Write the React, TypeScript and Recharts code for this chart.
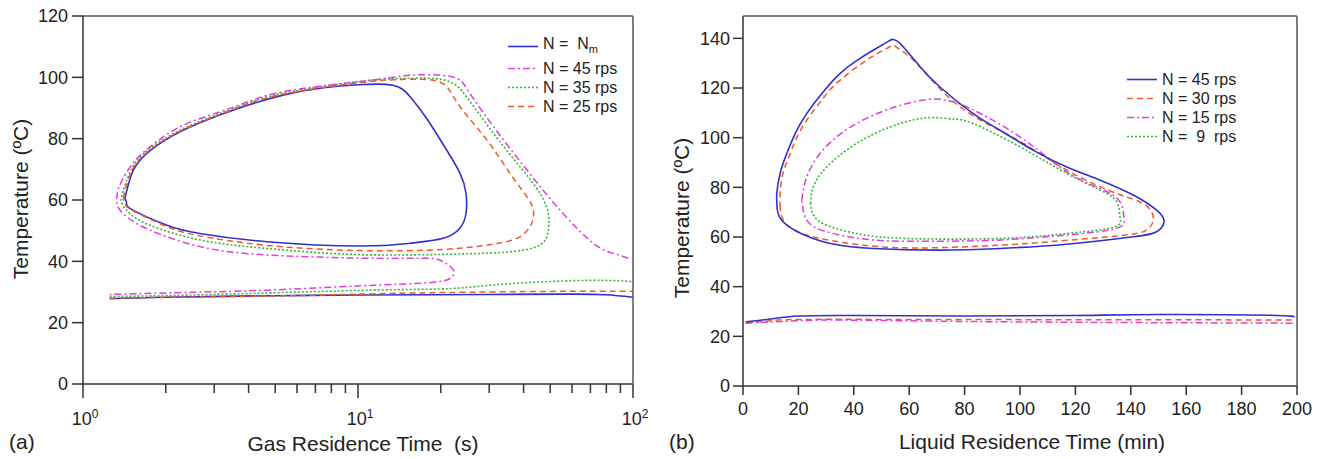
import { LineChart, Line, XAxis, YAxis } from 'recharts'

// panel (a): gas residence time (s, log) vs temperature
const A_NM_LOOP: [number, number][] = [
  [1.42, 60.5], [1.52, 69.5], [1.75, 76], [2.32, 82.8], [3.51, 89.3], [5.34, 94.2], [7.5, 96.6],
  [10, 97.6], [13.4, 97.4], [15.5, 93.6], [17.8, 86.5], [21, 76.3], [23.5, 68.7], [24.7, 62.2],
  [24.7, 55.6], [23.5, 50.9], [20.4, 47.5], [15.5, 45.9], [10.2, 45], [4.66, 46.4], [2.66, 49.1],
  [2.02, 51.8], [1.52, 56.7], [1.44, 58.9], [1.42, 60.5],
]
const A_NM_LOW: [number, number][] = [
  [1.25, 27.8], [2, 28.3], [5, 28.8], [10, 29], [30, 29.2], [60, 29.3], [80, 29.1], [100, 28.3],
]
const A_45_PATH: [number, number][] = [
  [96, 41], [84.8, 42.6], [71.7, 45.9], [54.3, 56.7], [41.1, 69.8], [31.1, 83.9], [25.5, 94.8],
  [23.5, 99.1], [20.4, 100.6], [15.5, 100.7], [10.8, 98.9], [5.35, 95.3], [3.51, 90.2], [2.32, 84.4],
  [1.75, 77.3], [1.52, 72], [1.38, 66], [1.33, 61.5], [1.34, 57.8], [1.44, 54.6], [1.75, 50.2],
  [2.66, 44.8], [4.66, 42.1], [10.8, 41], [17.8, 41], [20.4, 39.9], [22.2, 37.2], [21.6, 34.4],
  [17.8, 33], [10.2, 32], [4.66, 30.6], [2.5, 29.9], [1.25, 29.2],
]
const A_35_LOOP: [number, number][] = [
  [1.38, 61], [1.5, 70], [1.74, 76.6], [2.32, 83.3], [3.51, 89.8], [5.34, 94.8], [10, 98.6],
  [14, 99.6], [19, 99.6], [22.2, 98], [24.8, 93.7], [31.1, 81.7], [38.8, 70.9], [45.9, 62.2],
  [49.2, 55.6], [49.2, 50.2], [45.9, 45.3], [35.7, 43.1], [23.5, 42.4], [10.2, 42.2], [4.66, 44.2],
  [2.66, 47], [1.75, 51.8], [1.48, 55.6], [1.39, 58.5], [1.38, 61],
]
const A_35_LOW: [number, number][] = [
  [1.25, 28.5], [3, 29.2], [10, 30.5], [20, 31], [27, 31.8], [40, 33], [70, 33.8], [100, 33.4],
]
const A_25_LOOP: [number, number][] = [
  [1.4, 60.5], [1.51, 69.8], [1.75, 76.3], [2.32, 83], [3.51, 89.5], [5.34, 94.5], [10, 98.2],
  [13.4, 99.2], [17.8, 99.3], [21, 97], [23.5, 90.4], [29.4, 79.6], [35.7, 68.7], [41.1, 61.1],
  [43.4, 56.7], [42.8, 52.4], [38.8, 48], [31.1, 45.6], [20.4, 43.9], [10.2, 43.5], [4.66, 45.2],
  [2.66, 48.3], [2.02, 51.3], [1.52, 56.5], [1.42, 58.8], [1.4, 60.5],
]
const A_25_LOW: [number, number][] = [
  [1.25, 28], [5, 28.7], [10, 29.3], [20, 29.8], [50, 30.2], [100, 30.2],
]

// panel (b): liquid residence time (min) vs temperature
const B_45_LOOP: [number, number][] = [
  [12.4, 70.8], [12.2, 77.5], [13.5, 86], [15.8, 93.6], [19, 102], [23, 109.7], [29, 118.5],
  [35, 125.8], [41, 131], [47, 135.2], [52, 138.5], [54, 139.6], [55.5, 139], [57.9, 136.5],
  [64, 128.5], [71.1, 120.4], [83.1, 109.7], [92.8, 103], [104.7, 95], [116.9, 88.2], [128.9, 82.9],
  [140.9, 76.9], [149.3, 70.8], [152, 66.1], [149.3, 62.1], [140.9, 60.1], [116.9, 57.1],
  [92.8, 55.4], [71.1, 54.7], [47, 55.4], [29, 58.1], [15.8, 64.8], [12.4, 70.8],
]
const B_45_LOW: [number, number][] = [
  [1, 25.8], [10, 27], [20, 28.2], [40, 28.4], [80, 28.2], [120, 28.4], [150, 28.8], [190, 28.5], [199, 27.7],
]
const B_30_LOOP: [number, number][] = [
  [13.4, 72], [13.4, 78], [14.5, 86], [16.5, 92], [19, 99], [23, 107], [29, 116], [35, 123.1],
  [45, 131.5], [52, 136], [54.3, 137.2], [56, 136], [61.5, 131.2], [71.1, 119.7], [83.1, 108.8],
  [100, 98.5], [116.9, 86.9], [134.9, 77.5], [144.5, 73.5], [148.1, 68.1], [145.7, 62.8],
  [134.9, 60.4], [110.8, 58.1], [92.8, 56.7], [70, 55.7], [47, 56.3], [23, 60.8], [14.6, 66.8], [13.4, 72],
]
const B_30_LOW: [number, number][] = [
  [1, 25.5], [10, 26.3], [20, 26.8], [60, 26.8], [120, 26.7], [199, 26.6],
]
const B_15_LOOP: [number, number][] = [
  [21.2, 74.8], [23, 84.2], [27.8, 93.6], [34, 100.5], [41, 105.7], [53.1, 111.7], [67.5, 115.5],
  [74, 114.8], [80.8, 112.4], [100, 100.3], [116.9, 86.2], [128.9, 79.6], [136.1, 74.2],
  [137.5, 68.1], [134.9, 63.5], [116.9, 60.8], [92.8, 58.8], [70, 58.3], [47, 58.8], [30.2, 62.1],
  [23, 66.8], [21.2, 74.8],
]
const B_15_LOW: [number, number][] = [
  [1, 25.3], [20, 26.3], [40, 26.5], [100, 25.8], [199, 25.3],
]
const B_9_LOOP: [number, number][] = [
  [24.4, 73.5], [25.4, 80.2], [30.2, 88.2], [41, 97.7], [53.1, 104.3], [62, 107.3], [68.8, 108.1],
  [76, 107.5], [83.1, 105.7], [100, 96.3], [116.9, 85.6], [128.9, 78.9], [134.9, 74.2],
  [136.1, 68.1], [133.7, 63.9], [116.9, 61.4], [92.8, 59.4], [59.1, 59.4], [41, 61.4], [27.8, 66.1],
  [24.4, 73.5],
]

const LOG_TICKS = [1, 2, 3, 4, 5, 6, 7, 8, 9, 10, 20, 30, 40, 50, 60, 70, 80, 90, 100]
const A_Y_TICKS = [0, 20, 40, 60, 80, 100, 120]
const B_X_TICKS = [0, 20, 40, 60, 80, 100, 120, 140, 160, 180, 200]
const B_Y_TICKS = [0, 20, 40, 60, 80, 100, 120, 140]

const BLUE = '#3030cc'
const RED = '#f05a2a'
const MAG = '#dc40dc'
const GREEN = '#36b536'
const AXIS = '#333'
const FONT = '"Liberation Sans", Arial, sans-serif'

const STYLE: Record<string, { stroke: string; dash?: string; w: number }> = {
  solid: { stroke: BLUE, w: 1.6 },
  dash: { stroke: RED, dash: '6 4', w: 1.5 },
  dashdot: { stroke: MAG, dash: '7 3 2 3', w: 1.5 },
  dot: { stroke: GREEN, dash: '2 2', w: 1.6 },
}

const pts = (arr: [number, number][]) => arr.map(([x, y]) => ({ x, y }))

const seriesA = [
  { key: 'a1', data: A_NM_LOOP, s: 'solid' },
  { key: 'a2', data: A_NM_LOW, s: 'solid' },
  { key: 'a3', data: A_35_LOOP, s: 'dot' },
  { key: 'a4', data: A_35_LOW, s: 'dot' },
  { key: 'a5', data: A_25_LOOP, s: 'dash' },
  { key: 'a6', data: A_25_LOW, s: 'dash' },
  { key: 'a7', data: A_45_PATH, s: 'dashdot' },
]
const seriesB = [
  { key: 'b1', data: B_9_LOOP, s: 'dot' },
  { key: 'b2', data: B_15_LOOP, s: 'dashdot' },
  { key: 'b3', data: B_15_LOW, s: 'dashdot' },
  { key: 'b4', data: B_30_LOOP, s: 'dash' },
  { key: 'b5', data: B_30_LOW, s: 'dash' },
  { key: 'b6', data: B_45_LOOP, s: 'solid' },
  { key: 'b7', data: B_45_LOW, s: 'solid' },
]

const LogTick = (props: any) => {
  const { x, y, payload } = props
  const v = payload.value
  const e = Math.round(Math.log10(v))
  const major = Math.abs(Math.log10(v) - e) < 1e-6
  return (
    <g>
      <line x1={x} x2={x} y1={y} y2={y + (major ? 14 : 9)} stroke={AXIS} strokeWidth={1.5} />
      {major && (
        <text x={x + 2} y={y + 41} textAnchor="middle" fontSize={18} fill="#222">
          10<tspan fontSize={12} dy={-7}>{e}</tspan>
        </text>
      )}
    </g>
  )
}

function renderLines(list: { key: string; data: [number, number][]; s: string }[]) {
  return list.map(l => {
    const st = STYLE[l.s]
    return (
      <Line
        key={l.key}
        data={pts(l.data)}
        dataKey="y"
        type="natural"
        stroke={st.stroke}
        strokeWidth={st.w}
        strokeDasharray={st.dash}
        dot={false}
        activeDot={false}
        isAnimationActive={false}
      />
    )
  })
}

function LegendBox({ left, top, rows }: { left: number; top: number; rows: { s: string; label: React.ReactNode }[] }) {
  return (
    <div style={{ position: 'absolute', left, top, fontSize: 16, lineHeight: '19px', color: '#222' }}>
      {rows.map((r, i) => {
        const st = STYLE[r.s]
        return (
          <div key={i} style={{ display: 'flex', alignItems: 'center', whiteSpace: 'pre' }}>
            <svg width={35} height={19}>
              <line x1={0} x2={30} y1={9.5} y2={9.5} stroke={st.stroke} strokeWidth={st.w} strokeDasharray={st.dash} />
            </svg>
            <span>{r.label}</span>
          </div>
        )
      })}
    </div>
  )
}

const abs = (s: React.CSSProperties): React.CSSProperties => ({ position: 'absolute', whiteSpace: 'pre', color: '#222', ...s })
const yTitle = (cx: number, cy: number) => (
  <div style={abs({ left: cx, top: cy, fontSize: 21, transform: 'translate(-50%,-50%) rotate(-90deg)' })}>
    Temperature (ºC)
  </div>
)

const frame = { stroke: '#555', strokeWidth: 1.5 }

export default function App() {
  return (
    <div style={{ position: 'absolute', left: 0, top: 0, width: 1321, height: 459, background: '#fff', fontFamily: FONT }}>
      <div style={{ position: 'absolute', left: 0, top: 0 }}>
        <LineChart width={660} height={459} margin={{ top: 15, right: 26, bottom: 45, left: 0 }}>
          <XAxis
            dataKey="x"
            type="number"
            scale="log"
            domain={[1, 100]}
            allowDataOverflow
            ticks={LOG_TICKS}
            interval={0}
            height={30}
            tickSize={0}
            tickMargin={0}
            tickLine={false}
            tick={<LogTick />}
            axisLine={{ stroke: AXIS, strokeWidth: 1.5 }}
          />
          <XAxis xAxisId="top" orientation="top" type="number" domain={[0, 1]} height={1} tick={false} tickLine={false} axisLine={frame} />
          <YAxis
            type="number"
            domain={[0, 120]}
            ticks={A_Y_TICKS}
            interval={0}
            width={83}
            tickSize={11}
            tickMargin={4}
            tick={{ fontSize: 18, fill: '#222' }}
            tickLine={{ stroke: AXIS, strokeWidth: 1.5 }}
            axisLine={{ stroke: AXIS, strokeWidth: 1.5 }}
          />
          <YAxis yAxisId="r" orientation="right" type="number" domain={[0, 1]} width={1} tick={false} tickLine={false} axisLine={frame} />
          {renderLines(seriesA)}
        </LineChart>
      </div>
      <div style={{ position: 'absolute', left: 660, top: 0 }}>
        <LineChart width={661} height={459} margin={{ top: 15, right: 23, bottom: 43, left: 0 }}>
          <XAxis
            dataKey="x"
            type="number"
            domain={[0, 200]}
            ticks={B_X_TICKS}
            interval={0}
            height={30}
            tickSize={9}
            tickMargin={7}
            tick={{ fontSize: 18, fill: '#222' }}
            tickLine={{ stroke: AXIS, strokeWidth: 1.5 }}
            axisLine={{ stroke: AXIS, strokeWidth: 1.5 }}
          />
          <XAxis xAxisId="top" orientation="top" type="number" domain={[0, 1]} height={1} tick={false} tickLine={false} axisLine={frame} />
          <YAxis
            type="number"
            domain={[0, 149]}
            allowDataOverflow
            ticks={B_Y_TICKS}
            interval={0}
            width={83}
            tickSize={10}
            tickMargin={3}
            tick={{ fontSize: 18, fill: '#222' }}
            tickLine={{ stroke: AXIS, strokeWidth: 1.5 }}
            axisLine={{ stroke: AXIS, strokeWidth: 1.5 }}
          />
          <YAxis yAxisId="r" orientation="right" type="number" domain={[0, 1]} width={1} tick={false} tickLine={false} axisLine={frame} />
          {renderLines(seriesB)}
        </LineChart>
      </div>

      <LegendBox
        left={508}
        top={34}
        rows={[
          { s: 'solid', label: <>N =  N<sub style={{ fontSize: 11 }}>m</sub></> },
          { s: 'dashdot', label: 'N = 45 rps' },
          { s: 'dot', label: 'N = 35 rps' },
          { s: 'dash', label: 'N = 25 rps' },
        ]}
      />
      <LegendBox
        left={1127}
        top={70}
        rows={[
          { s: 'solid', label: 'N = 45 rps' },
          { s: 'dash', label: 'N = 30 rps' },
          { s: 'dashdot', label: 'N = 15 rps' },
          { s: 'dot', label: 'N =  9  rps' },
        ]}
      />

      {yTitle(21, 199)}
      {yTitle(682, 218)}
      <div style={abs({ left: 363, top: 432, fontSize: 21, transform: 'translateX(-50%)' })}>Gas Residence Time  (s)</div>
      <div style={abs({ left: 1032, top: 430, fontSize: 21, transform: 'translateX(-50%)' })}>Liquid Residence Time (min)</div>
      <div style={abs({ left: 9, top: 430, fontSize: 21 })}>(a)</div>
      <div style={abs({ left: 669, top: 430, fontSize: 21 })}>(b)</div>
    </div>
  )
}
